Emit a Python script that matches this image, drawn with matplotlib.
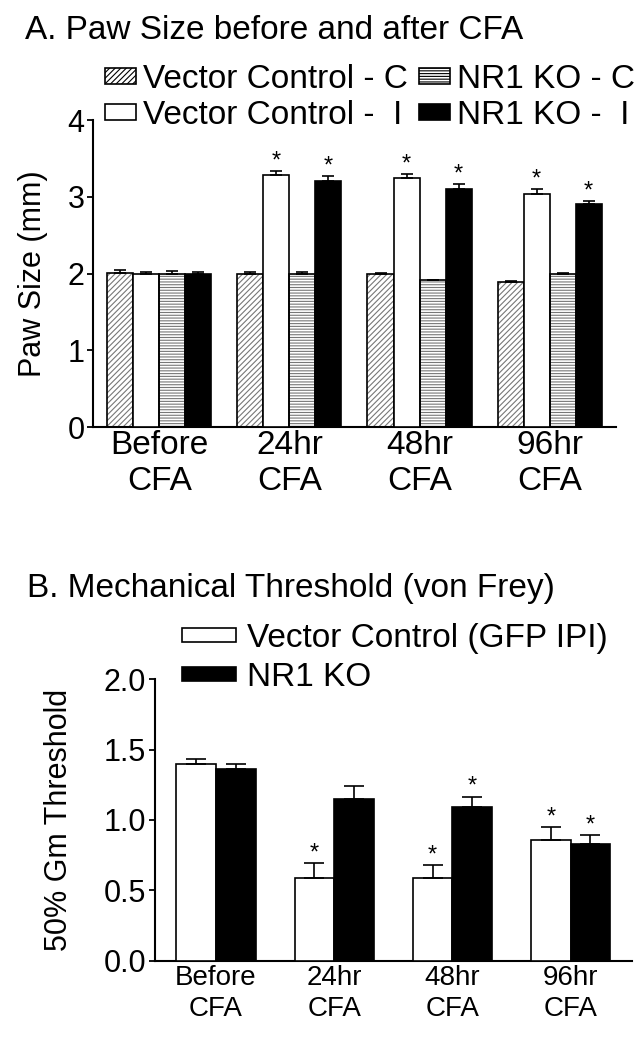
import matplotlib
matplotlib.use("Agg")
import matplotlib.pyplot as plt
import numpy as np
from matplotlib.patches import Patch

plt.rcParams['font.family'] = ['Liberation Sans', 'DejaVu Sans']
plt.rcParams['hatch.linewidth'] = 0.8

# ---------------- data ----------------
groups = ["Before\nCFA", "24hr\nCFA", "48hr\nCFA", "96hr\nCFA"]

# Panel A: paw size (mm)
vc_c = [2.01, 2.00, 2.00, 1.89]
vc_c_err = [0.04, 0.025, 0.01, 0.015]
vc_i = [1.99, 3.29, 3.25, 3.03]
vc_i_err = [0.035, 0.04, 0.05, 0.065]
nr1_c = [2.00, 2.00, 1.91, 2.00]
nr1_c_err = [0.03, 0.025, 0.01, 0.01]
nr1_i = [1.99, 3.20, 3.10, 2.90]
nr1_i_err = [0.035, 0.07, 0.065, 0.045]
sig_vc_i = [False, True, True, True]
sig_nr1_i = [False, True, True, True]
labels_a = ["Vector Control - C", "Vector Control -  I", "NR1 KO - C", "NR1 KO -  I"]
yticks_a = [0, 1, 2, 3, 4]

# Panel B: 50% Gm threshold
vc = [1.40, 0.59, 0.59, 0.86]
vc_err = [0.03, 0.105, 0.09, 0.09]
nr1 = [1.36, 1.15, 1.09, 0.83]
nr1_err = [0.035, 0.088, 0.076, 0.064]
sig_vc = [False, True, True, True]
sig_nr1 = [False, False, True, True]
labels_b = ["Vector Control (GFP IPI)", "NR1 KO"]
yticks_b = [0.0, 0.5, 1.0, 1.5, 2.0]

fig = plt.figure(figsize=(6.44, 10.5), dpi=100)

FS_TITLE = 24
FS_TICK = 22
FS_LEG = 24
FS_LAB = 22

def style_axes(ax, ypad):
    for s in ['top', 'right']:
        ax.spines[s].set_visible(False)
    for s in ['left', 'bottom']:
        ax.spines[s].set_linewidth(1.5)
    ax.tick_params(axis='y', direction='out', length=4.5, width=1.3, pad=ypad)
    ax.tick_params(axis='x', length=0, pad=2)

# ---------------- Panel A ----------------
axA = fig.add_axes([0.1444, 0.5933, 0.8121, 0.2924])
x = np.arange(len(groups))
w = 0.2
series_a = [
    (vc_c, vc_c_err, 'white', '//////', None),
    (vc_i, vc_i_err, 'white', None, sig_vc_i),
    (nr1_c, nr1_c_err, 'white', '------', None),
    (nr1_i, nr1_i_err, 'black', None, sig_nr1_i),
]
offsets = [-1.5 * w, -0.5 * w, 0.5 * w, 1.5 * w]
handles_a = []
for (vals, errs, fc, hatch, sig), off in zip(series_a, offsets):
    xs = x + off
    if hatch:
        axA.bar(xs, vals, w, color='white', edgecolor='#777777', hatch=hatch, linewidth=0, zorder=2)
    axA.bar(xs, vals, w, facecolor=(fc if not hatch else 'none'), edgecolor='black', linewidth=1.2, zorder=3)
    axA.errorbar(xs, vals, yerr=[np.zeros(len(errs)), errs], fmt='none', ecolor='black',
                 elinewidth=1.2, capsize=4, capthick=1.2, zorder=4)
    if sig:
        for xi, v, e, s in zip(xs, vals, errs, sig):
            if s:
                axA.text(xi, v + e - 0.02, '*', ha='center', va='bottom', fontsize=17)
    handles_a.append(Patch(facecolor=fc, edgecolor='black', hatch=hatch, linewidth=1.2))

axA.set_xlim(-0.51, 3.51)
axA.set_ylim(0, 4)
axA.set_yticks(yticks_a)
axA.set_yticklabels([str(t) for t in yticks_a], fontsize=FS_TICK)
axA.set_xticks(x)
axA.set_xticklabels(groups, fontsize=24, linespacing=1.2)
axA.set_ylabel("Paw Size (mm)", fontsize=FS_LAB, labelpad=14)
style_axes(axA, 1.5)
fig.text(0.039, 0.9629, "A. Paw Size before and after CFA", fontsize=FS_TITLE, va='baseline', ha='left')
legA = fig.legend(handles_a, labels_a, ncol=2, loc='upper left', bbox_to_anchor=(0.163, 0.939),
                  frameon=False, fontsize=FS_LEG, handlelength=0.93, handleheight=0.36,
                  handletextpad=0.21, columnspacing=0.33, labelspacing=0.14, borderaxespad=0,
                  borderpad=0)

# ---------------- Panel B ----------------
axB = fig.add_axes([0.2407, 0.0848, 0.7407, 0.2685])
wb = 0.335
handles_b = []
for vals, errs, fc, sig, off in [(vc, vc_err, 'white', sig_vc, -0.5 * wb), (nr1, nr1_err, 'black', sig_nr1, 0.5 * wb)]:
    xs = x + off
    axB.bar(xs, vals, wb, facecolor=fc, edgecolor='black', linewidth=1.2, zorder=3)
    axB.errorbar(xs, vals, yerr=[np.zeros(len(errs)), errs], fmt='none', ecolor='black',
                 elinewidth=1.2, capsize=7, capthick=1.2, zorder=4)
    for xi, v, e, s in zip(xs, vals, errs, sig):
        if s:
            axB.text(xi, v + e - 0.01, '*', ha='center', va='bottom', fontsize=17)
    handles_b.append(Patch(facecolor=fc, edgecolor='black', linewidth=1.2))

axB.set_xlim(-0.516, 3.52)
axB.set_ylim(0, 2.0)
axB.set_yticks(yticks_b)
axB.set_yticklabels([f"{t:.1f}" for t in yticks_b], fontsize=FS_TICK)
axB.set_xticks(x)
axB.set_xticklabels(groups, fontsize=20, linespacing=1.25)
axB.set_ylabel("50% Gm Threshold", fontsize=FS_LAB, labelpad=21)
style_axes(axB, 2)
axB.tick_params(axis='x', pad=3)
fig.text(0.042, 0.4314, "B. Mechanical Threshold (von Frey)", fontsize=FS_TITLE, va='baseline', ha='left')
legB = fig.legend(handles_b, labels_b, loc='upper left', bbox_to_anchor=(0.2826, 0.407),
                  frameon=False, fontsize=FS_LEG, handlelength=1.62, handleheight=0.27,
                  handletextpad=0.33, labelspacing=0.26, borderaxespad=0, borderpad=0)

fig.savefig("out.png", dpi=100)
